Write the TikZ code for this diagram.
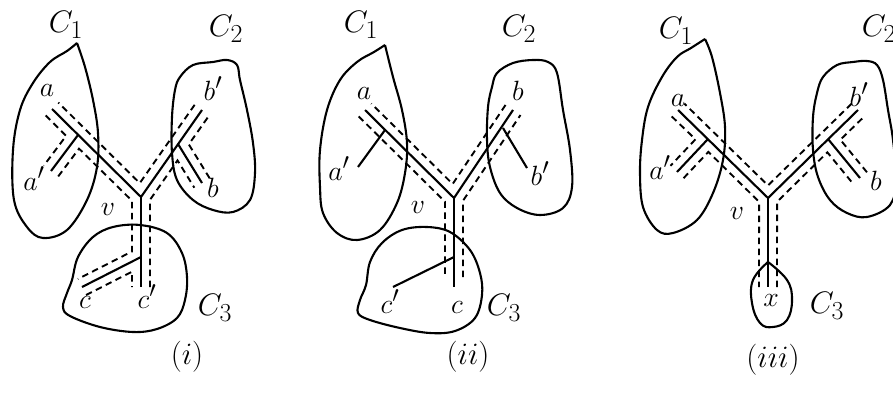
\documentclass[tikz,border=0pt]{standalone}
\usepackage{graphicx}
\usetikzlibrary{calc}
\tikzset{
  tree/.style={line width=2.1pt, line join=miter},
  tour/.style={line width=1.9pt, dash pattern=on 6.5pt off 4.5pt},
  blob/.style={line width=2.1pt},
  lab/.style={font=\Huge, anchor=base, inner sep=0pt},
  biglab/.style={font=\Huge, anchor=base, inner sep=0pt},
  plab/.style={font=\Huge, anchor=base, inner sep=0pt},
}
\newcommand\sm[1]{\scalebox{1.12}{$#1$}}
\newcommand\bigC[1]{\scalebox{1.25}{$C_{#1}$}}
\newcommand\plb[1]{\scalebox{1.25}{$(#1)$}}
\def\dd{9pt}
% offset point at the start of a path: leaf #2, next vertex #3 (right-hand side)
\newcommand\offstart[3]{\coordinate (#1) at ($(#2)!\dd!-90:(#3)$);}
% offset point at the end of a path: leaf #2, previous vertex #3
\newcommand\offend[3]{\coordinate (#1) at ($(#2)!\dd!90:(#3)$);}
% corner of the offset path at #3, coming from #2, going to #4
\newcommand\offcorner[4]{%
  \coordinate (#1p) at ($(#2)!\dd!-90:(#3)$);
  \coordinate (#1q) at ($(#3)!\dd!90:(#2)$);
  \coordinate (#1r) at ($(#3)!\dd!-90:(#4)$);
  \coordinate (#1s) at ($(#4)!\dd!90:(#3)$);
  \coordinate (#1) at (intersection of #1p--#1q and #1r--#1s);}
\begin{document}
\begin{tikzpicture}[x=1pt,y=-1pt]
\useasboundingbox (0,0) rectangle (893,396);

% ================= panel (i) =================
\coordinate (v1) at (141,197);
\coordinate (A1) at (52,109);
\coordinate (ja1) at (78,135);
\coordinate (Ap1) at (51,171);
\coordinate (B1) at (202,110);
\coordinate (jb1) at (178,144);
\coordinate (Bb1) at (202,183);
\coordinate (Cp1) at (141,287);
\coordinate (jc1) at (141,257);
\coordinate (Cc1) at (82,287);

\draw[blob] plot[smooth, tension=0.6] coordinates {(77,43) (85,67) (93,100) (98,133) (97,167) (87,200) (67,230) (43,238) (27,227) (14,200) (13,150) (20,110) (33,83) (50,62) (67,51) (77,43)};
\draw[blob] plot[smooth cycle, tension=0.6] coordinates {(180,77) (193,65) (213,62) (227,60) (237,65) (240,80) (247,110) (253,143) (255,173) (250,200) (233,212) (213,210) (193,200) (177,180) (172,153) (172,117) (175,90)};
\draw[blob] plot[smooth cycle, tension=0.6] coordinates {(140,225) (167,233) (182,253) (187,277) (185,300) (177,318) (157,329) (133,332) (100,327) (70,316) (63,307) (67,293) (72,280) (78,257) (93,237) (113,227)};

\draw[tree] (A1) -- (v1) -- (B1);
\draw[tree] (v1) -- (Cp1);
\draw[tree] (ja1) -- (Ap1);
\draw[tree] (jb1) -- (Bb1);
\draw[tree] (jc1) -- (Cc1);

\offstart{i1s}{A1}{ja1}\offcorner{i1a}{A1}{ja1}{Ap1}\offend{i1e}{Ap1}{ja1}
\draw[tour] (i1s) -- (i1a) -- (i1e);
\offstart{i2s}{Ap1}{ja1}\offcorner{i2a}{Ap1}{ja1}{v1}\offcorner{i2b}{ja1}{v1}{jc1}\offcorner{i2c}{v1}{jc1}{Cc1}\offend{i2e}{Cc1}{jc1}
\draw[tour] (i2s) -- (i2a) -- (i2b) -- (i2c) -- (i2e);
\offstart{i3s}{Cc1}{jc1}\offcorner{i3a}{Cc1}{jc1}{Cp1}\offend{i3e}{Cp1}{jc1}
\draw[tour] (i3s) -- (i3a) -- (i3e);
\offstart{i4s}{Cp1}{v1}\offcorner{i4a}{Cp1}{v1}{jb1}\offcorner{i4b}{v1}{jb1}{Bb1}\offend{i4e}{Bb1}{jb1}
\draw[tour] (i4s) -- (i4a) -- (i4b) -- (i4e);
\offstart{i5s}{Bb1}{jb1}\offcorner{i5a}{Bb1}{jb1}{B1}\offend{i5e}{B1}{jb1}
\draw[tour] (i5s) -- (i5a) -- (i5e);
\offstart{i6s}{B1}{v1}\offcorner{i6a}{B1}{v1}{A1}\offend{i6e}{A1}{v1}
\draw[tour] (i6s) -- (i6a) -- (i6e);

\node[biglab] (C11) at (66,33) {\bigC1};
\node[biglab] (C21) at (226,37) {\bigC2};
\node[biglab] (C31) at (215,315) {\bigC3};
\node[lab] (la1) at (47,96) {\sm{a}};
\node[lab] (lap1) at (34,190) {\sm{a'}};
\node[lab] (lbp1) at (213,100) {\sm{b'}};
\node[lab] (lb1) at (213,197) {\sm{b}};
\node[lab] (lv1) at (108,215) {\sm{v}};
\node[lab] (lc1) at (85,308) {\sm{c}};
\node[lab] (lcp1) at (147,308) {\sm{c'}};
\node[plab] (p1) at (187,364) {\plb{i}};

% ================= panel (ii) =================
\coordinate (v2) at (454,198);
\coordinate (A2) at (365,110);
\coordinate (ja2) at (385,130);
\coordinate (Ap2) at (358,167);
\coordinate (B2) at (513,110);
\coordinate (jb2) at (503,128);
\coordinate (Bp2) at (527,168);
\coordinate (Cc2) at (454,287);
\coordinate (Cd2) at (454,277);
\coordinate (jc2) at (454,257);
\coordinate (Cp2) at (393,287);

\draw[blob] plot[smooth, tension=0.6] coordinates {(385,45) (393,77) (402,110) (407,143) (405,173) (397,203) (380,230) (357,240) (337,233) (323,213) (320,187) (320,150) (327,110) (340,80) (357,62) (374,52) (385,45)};
\draw[blob] plot[smooth cycle, tension=0.6] coordinates {(497,73) (513,63) (533,60) (548,62) (557,73) (563,110) (570,150) (572,187) (563,208) (540,215) (517,208) (500,193) (490,167) (487,140) (488,107) (492,87)};
\draw[blob] plot[smooth cycle, tension=0.6] coordinates {(427,227) (450,232) (470,250) (480,273) (482,295) (475,318) (455,331) (430,333) (400,328) (370,320) (358,313) (360,300) (366,285) (370,262) (382,243) (402,230)};

\draw[tree] (A2) -- (v2) -- (B2);
\draw[tree] (v2) -- (Cc2);
\draw[tree] (ja2) -- (Ap2);
\draw[tree] (jb2) -- (Bp2);
\draw[tree] (jc2) -- (Cp2);

\offstart{j1s}{B2}{v2}\offcorner{j1a}{B2}{v2}{A2}\offend{j1e}{A2}{v2}
\draw[tour] (j1s) -- (j1a) -- (j1e);
\offstart{j2s}{A2}{v2}\offcorner{j2a}{A2}{v2}{Cd2}\offend{j2e}{Cd2}{v2}
\draw[tour] (j2s) -- (j2a) -- (j2e);
\offstart{j3s}{Cd2}{v2}\offcorner{j3a}{Cd2}{v2}{B2}\offend{j3e}{B2}{v2}
\draw[tour] (j3s) -- (j3a) -- (j3e);

\node[biglab] (C12) at (361,33) {\bigC1};
\node[biglab] (C22) at (519,37) {\bigC2};
\node[biglab] (C32) at (504,315) {\bigC3};
\node[lab] (la2) at (364,99) {\sm{a}};
\node[lab] (lap2) at (339,180) {\sm{a'}};
\node[lab] (lb2) at (518,100) {\sm{b}};
\node[lab] (lbp2) at (540,185) {\sm{b'}};
\node[lab] (lv2) at (418,213) {\sm{v}};
\node[lab] (lcp2) at (390,313) {\sm{c'}};
\node[lab] (lc2) at (457,313) {\sm{c}};
\node[plab] (p2) at (468,364) {\plb{ii}};

% ================= panel (iii) =================
\coordinate (v3) at (768,198);
\coordinate (A3) at (678,110);
\coordinate (ja3) at (708,139);
\coordinate (Ap3) at (677,172);
\coordinate (B3) at (858,110);
\coordinate (jb3) at (828,139);
\coordinate (Bb3) at (860,178);
\coordinate (X3) at (768,287);

\draw[blob] plot[smooth, tension=0.6] coordinates {(705,39) (712,57) (720,93) (725,127) (723,160) (713,193) (697,220) (673,233) (657,230) (643,207) (640,173) (642,140) (648,107) (662,77) (677,57) (691,48) (705,39)};
\draw[blob] plot[smooth cycle, tension=0.6] coordinates {(823,77) (837,65) (853,62) (867,61) (877,65) (883,80) (888,110) (893,140) (896,180) (890,205) (867,217) (847,213) (830,200) (818,177) (813,150) (813,117) (817,93)};
\draw[blob] plot[smooth, tension=0.7] coordinates {(768,262) (787,280) (792,300) (787,320) (773,327) (760,323) (752,303) (753,280) (768,262)};

\draw[tree] (A3) -- (v3) -- (B3);
\draw[tree] (v3) -- (X3);
\draw[tree] (ja3) -- (Ap3);
\draw[tree] (jb3) -- (Bb3);

\offstart{k1s}{A3}{ja3}\offcorner{k1a}{A3}{ja3}{Ap3}\offend{k1e}{Ap3}{ja3}
\draw[tour] (k1s) -- (k1a) -- (k1e);
\offstart{k2s}{Ap3}{ja3}\offcorner{k2a}{Ap3}{ja3}{v3}\offcorner{k2b}{ja3}{v3}{X3}\offend{k2e}{X3}{v3}
\draw[tour] (k2s) -- (k2a) -- (k2b) -- (k2e);
\offstart{k3s}{X3}{v3}\offcorner{k3a}{X3}{v3}{jb3}\offcorner{k3b}{v3}{jb3}{Bb3}\offend{k3e}{Bb3}{jb3}
\draw[tour] (k3s) -- (k3a) -- (k3b) -- (k3e);
\offstart{k4s}{Bb3}{jb3}\offcorner{k4a}{Bb3}{jb3}{B3}\offend{k4e}{B3}{jb3}
\draw[tour] (k4s) -- (k4a) -- (k4e);
\offstart{k5s}{B3}{v3}\offcorner{k5a}{B3}{v3}{A3}\offend{k5e}{A3}{v3}
\draw[tour] (k5s) -- (k5a) -- (k5e);

\node[biglab] (C13) at (676,38) {\bigC1};
\node[biglab] (C23) at (879,37) {\bigC2};
\node[biglab] (C33) at (827,313) {\bigC3};
\node[lab] (la3) at (678,106) {\sm{a}};
\node[lab] (lap3) at (660,179) {\sm{a'}};
\node[lab] (lbp3) at (859,106) {\sm{b'}};
\node[lab] (lb3) at (876,190) {\sm{b}};
\node[lab] (lv3) at (737,219) {\sm{v}};
\node[lab] (lx3) at (771,306) {\sm{x}};
\node[plab] (p3) at (773,367) {\plb{iii}};
\end{tikzpicture}
\end{document}
